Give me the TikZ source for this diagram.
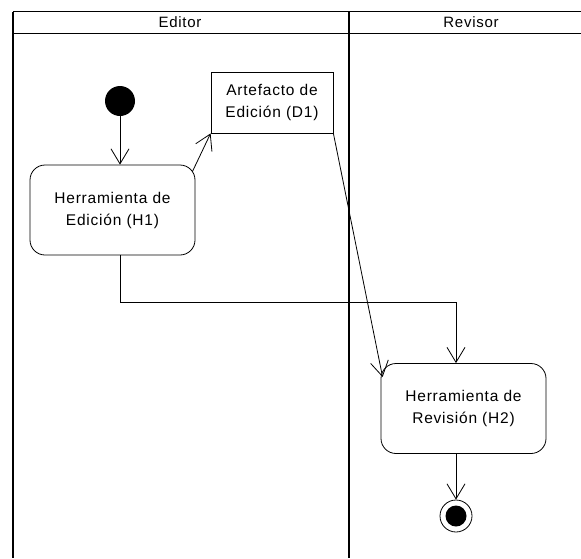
\documentclass[tikz,border=0pt]{standalone}
\usepackage{fontspec}
\setmainfont[LetterSpace=5]{Liberation Sans}
\usetikzlibrary{arrows.meta, calc}
\tikzset{
  lane_border/.style={line width=1.6pt, black},
  lane_title/.style={font=\fontsize{15}{18}\selectfont},
  action_node/.style={rectangle, draw, line width=0.8pt, rounded corners=15pt, minimum width=165pt, minimum height=90pt, align=center, font=\fontsize{15.5}{22}\selectfont},
  object_node/.style={rectangle, draw, line width=0.8pt, minimum width=122pt, minimum height=61pt, align=center, font=\fontsize{15.5}{22}\selectfont},
  start_state/.style={circle, fill=black, minimum size=30pt, inner sep=0pt},
  end_state/.style={circle, draw, line width=0.8pt, minimum size=32pt, inner sep=0pt, path picture={\fill[black] (path picture bounding box.center) circle (10.5pt);}},
  flow/.style={->, line width=0.8pt, black}
}

\begin{document}
\begin{tikzpicture}[
    x=1pt, y=-1pt,
    >={Straight Barb[length=15pt, width=18pt]}
]
    \useasboundingbox (0,0) rectangle (581,558);

    % 1. Swimlanes
    \draw[lane_border] (13,11.5) -- (581,11.5);
    \draw[lane_border] (13,33.5) -- (581,33.5);
    \draw[lane_border] (13,11.5) -- (13,558);
    \draw[lane_border] (349,11.5) -- (349,558);
    \node[lane_title] (editor_title) at (180,22.5) {Editor};
    \node[lane_title] (revisor_title) at (471,22.5) {Revisor};

    % 2. Nodes
    \node[start_state] (start) at (120,101) {};
    \node[action_node] (h1) at (112.5,210) {Herramienta de\\Edición (H1)};
    \node[object_node] (d1) at (272,102.5) {Artefacto de\\Edición (D1)};
    \node[action_node] (h2) at (463.5,408.5) {Herramienta de\\Revisión (H2)};
    \node[end_state] (final) at (456,516) {};

    % 3. Flows
    \draw[flow] (start) -- (start |- h1.north);
    \draw[flow] ([shift={(-3,7)}]h1.north east) -- (d1.south west);
    \draw[flow] (d1.south east) -- ([shift={(2,14)}]h2.north west);
    \draw[flow] (h1.south -| start) -- ++(0,47) -| (h2.north -| final);
    \draw[flow] (h2.south -| final) -- (final);
\end{tikzpicture}
\end{document}
